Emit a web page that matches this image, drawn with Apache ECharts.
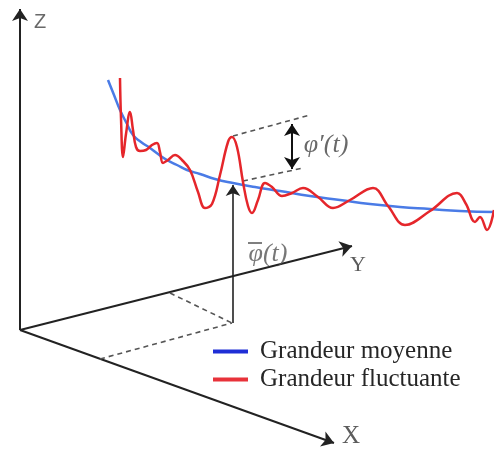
<!DOCTYPE html>
<html>
<head>
<meta charset="utf-8">
<script src="https://cdn.jsdelivr.net/npm/echarts@6/dist/echarts.min.js"></script>
<style>html,body{margin:0;padding:0;background:#fff}#c{width:494px;height:450px}</style>
</head>
<body>
<div id="c"></div>
<script>
// Diagram drawn in a pixel-like value space (x: 0..494, y: 0..450 downward)
var seriesNames = ['Grandeur moyenne', 'Grandeur fluctuante'];

var meanCurve = [[108,80],[114,95],[120,110],[127,124],[133,135],[141,142],[150,148],[158,154],[167,160],[177,165],[187,170],[200,174],[215,179],[233,183],[255,187],[280,191],[310,196],[340,200],[370,204],[400,207],[430,209],[460,211],[494,212]];

var fluctCurve = [[120,78],[121,118],[123,157],[126,134],[130,112],[133,130],[136,147],[140,151],[146,150],[152,145],[157,143],[160,152],[163,163],[168,160],[175,155],[182,160],[190,170],[198,192],[205,208],[212,204],[220,175],[228,142],[232,137],[237,147],[243,182],[248,206],[252,213],[258,200],[265,183],[272,187],[282,196],[292,193],[303,188],[318,197],[333,208],[350,200],[373,188],[388,206],[405,225],[430,211],[457,193],[466,204],[475,222],[480,217],[487,230],[494,210]];

// axes of the 3-D frame: [start, end]
var frameAxes = [
  [[20,330],[20,9]],     // Z
  [[20,330],[352,246]],  // Y
  [[20,330],[334,443]]   // X
];
var meanArrow = [[[233,323],[233,185]]];
var fluctArrow = [[[292,124],[292,169]]];
var dashedGuides = [
  [[170,293],[232,323]],
  [[100,359],[232,323]],
  [[233,136],[310,115]],
  [[243,181],[303,168]]
];
var meanBar = [[[248,243],[262,243]]];   // bar over the mean symbol
var labelTexts = ['Z', 'Y', 'X', "φ′(t)", "φ(t)"];
var labelPos = [[40,22],[358,265],[351,436],[326,145],[268,254]];

function seg(list){ return list.map(function(s){ return {coords: s}; }); }

var chart = echarts.init(document.getElementById('c'), null, {renderer:'canvas'});
var labelStyles = [
  {fontFamily:'Liberation Sans', fontSize:20, color:'#444'},
  {fontFamily:'Liberation Serif', fontSize:22, color:'#333'},
  {fontFamily:'Liberation Serif', fontSize:25, color:'#333'},
  {fontFamily:'Liberation Serif', fontStyle:'italic', fontSize:26, color:'#444'},
  {fontFamily:'Liberation Serif', fontStyle:'italic', fontSize:26, color:'#555'}
];
chart.setOption({
  animation:false,
  backgroundColor:'#fff',
  grid:{left:0,right:0,top:0,bottom:0},
  xAxis:{type:'value',min:0,max:494,show:false},
  yAxis:{type:'value',min:0,max:450,inverse:true,show:false},
  legend:{
    orient:'vertical', left:208, top:334, itemGap:3,
    itemWidth:35, itemHeight:4, icon:'rect',
    data:[
      {name:seriesNames[0], itemStyle:{color:'#1f2ed6'}},
      {name:seriesNames[1], itemStyle:{color:'#e8323a'}}
    ],
    textStyle:{fontFamily:'Liberation Serif', fontSize:25, color:'#262626', padding:[0,0,0,7]}
  },
  series:[
    {type:'lines', coordinateSystem:'cartesian2d', silent:true, z:1,
     symbol:['none','arrow'], symbolSize:12,
     lineStyle:{color:'#222', width:2, opacity:1}, data:seg(frameAxes)},
    {type:'lines', coordinateSystem:'cartesian2d', silent:true, z:1,
     symbol:'none',
     lineStyle:{color:'#555', width:1.6, type:[5,4], opacity:1}, data:seg(dashedGuides)},
    {type:'lines', coordinateSystem:'cartesian2d', silent:true, z:3,
     symbol:['none','arrow'], symbolSize:11,
     lineStyle:{color:'#222', width:1.6, opacity:1}, data:seg(meanArrow)},
    {type:'lines', coordinateSystem:'cartesian2d', silent:true, z:3,
     symbol:['arrow','arrow'], symbolSize:12,
     lineStyle:{color:'#111', width:2, opacity:1}, data:seg(fluctArrow)},
    {type:'lines', coordinateSystem:'cartesian2d', silent:true, z:5,
     symbol:'none',
     lineStyle:{color:'#555', width:1.5, opacity:1}, data:seg(meanBar)},
    {name:seriesNames[0], type:'line', smooth:0.5, showSymbol:false, z:2,
     color:'#4a7be6', lineStyle:{color:'#4a7be6', width:2.5}, data:meanCurve},
    {name:seriesNames[1], type:'line', smooth:0.4, showSymbol:false, z:2,
     color:'#e5262b', lineStyle:{color:'#e5262b', width:2.5}, data:fluctCurve},
    {type:'scatter', symbolSize:0, silent:true, z:5,
     data:labelTexts.map(function(t,i){
       return {value:labelPos[i], name:t,
         label:Object.assign({show:true, position:'inside', formatter:'{b}'}, labelStyles[i])};
     })}
  ]
});
</script>
</body>
</html>
